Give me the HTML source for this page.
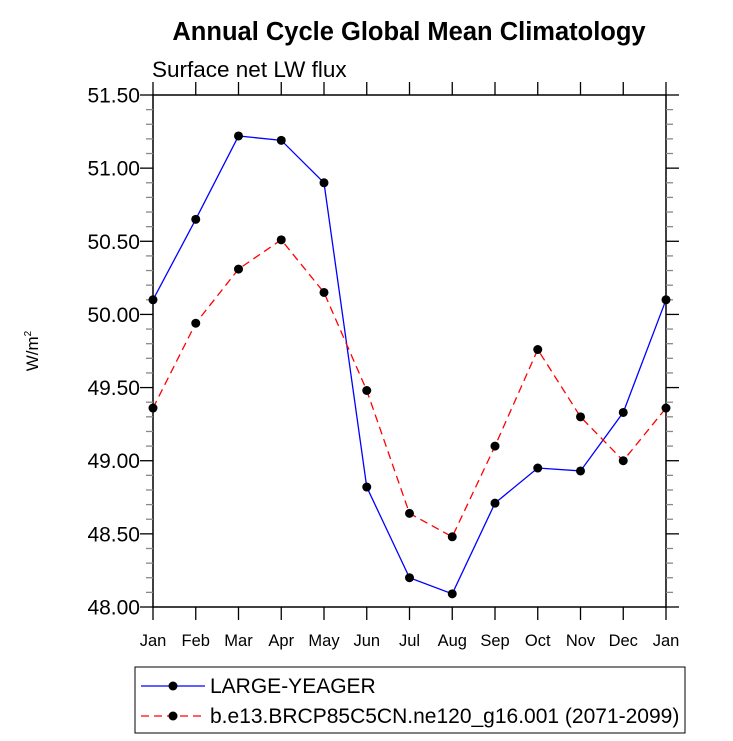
<!DOCTYPE html>
<html><head><meta charset="utf-8"><style>
html,body{margin:0;padding:0;background:#fff;}
svg{display:block;font-family:"Liberation Sans",Arial,sans-serif;}
</style></head><body>
<svg id="chart" width="733" height="741" viewBox="0 0 733 741">
<text x="409" y="40" text-anchor="middle" font-size="25.5" font-weight="bold">Annual Cycle Global Mean Climatology</text>
<text x="152" y="77" font-size="22.5">Surface net LW flux</text>
<text transform="translate(38,351) rotate(-90)" text-anchor="middle" font-size="17">W/m<tspan font-size="10" dy="-7">2</tspan></text>
<g id="axes"></g>
<g id="series"></g>
<g>
<rect x="135" y="667" width="550" height="66" fill="none" stroke="#000" stroke-width="1"/>
<g>
<line x1="141" y1="686" x2="205" y2="686" stroke="#0000ff" stroke-width="1.3"/>
<circle cx="173" cy="686" r="4.5" fill="#000"/>
<text x="210" y="693" font-size="21">LARGE-YEAGER</text>
</g>
<g>
<line x1="141" y1="716" x2="205" y2="716" stroke="#ff0000" stroke-width="1.3" stroke-dasharray="8,5"/>
<circle cx="173" cy="716" r="4.5" fill="#000"/>
<text x="210" y="723" font-size="21">b.e13.BRCP85C5CN.ne120_g16.001 (2071-2099)</text>
</g>
</g>
</svg>
<script>
const months = ["Jan","Feb","Mar","Apr","May","Jun","Jul","Aug","Sep","Oct","Nov","Dec","Jan"];
const largeYeager = [50.10,50.65,51.22,51.19,50.90,48.82,48.20,48.09,48.71,48.95,48.93,49.33,50.10];
const bE13 = [49.36,49.94,50.31,50.51,50.15,49.48,48.64,48.48,49.10,49.76,49.30,49.00,49.36];
const yTicks = [48.00,48.50,49.00,49.50,50.00,50.50,51.00,51.50];
const yTickLabels = ["48.00","48.50","49.00","49.50","50.00","50.50","51.00","51.50"];

const NS="http://www.w3.org/2000/svg";
const L=153,R=666,T=95,B=607,yMin=48,yMax=51.5;
const xS=i=>L+(R-L)*i/(months.length-1);
const yS=v=>B-(v-yMin)/(yMax-yMin)*(B-T);
function mk(tag,attrs,parent){const e=document.createElementNS(NS,tag);for(const k in attrs)e.setAttribute(k,attrs[k]);parent.appendChild(e);return e;}
const axes=document.getElementById('axes');
const frame=mk('rect',{x:L,y:T,width:R-L,height:B-T,fill:'none',stroke:'#000','stroke-width':1.5},axes);


for(let i=0;i<yTicks.length;i++){
  const y=yS(yTicks[i]);
  mk('line',{x1:L-13,y1:y,x2:L,y2:y,stroke:'#000','stroke-width':1.3},axes);
  mk('line',{x1:R,y1:y,x2:R+13,y2:y,stroke:'#000','stroke-width':1.3},axes);
  const t=mk('text',{x:L-13,y:y+7.5,'text-anchor':'end','font-size':21},axes);
  t.textContent=yTickLabels[i];
  
  
  if(i<yTicks.length-1){
    for(let k=1;k<5;k++){
      const ym=yS(yTicks[i]+(yTicks[i+1]-yTicks[i])*k/5);
      mk('line',{x1:L-7,y1:ym,x2:L,y2:ym,stroke:'#888','stroke-width':1.3},axes);
      mk('line',{x1:R,y1:ym,x2:R+7,y2:ym,stroke:'#888','stroke-width':1.3},axes);
    }
  }
}
months.forEach((m,i)=>{
  const x=xS(i);
  mk('line',{x1:x,y1:B,x2:x,y2:B+13,stroke:'#000','stroke-width':1.3},axes);
  mk('line',{x1:x,y1:T-13,x2:x,y2:T,stroke:'#000','stroke-width':1.3},axes);
  const t=mk('text',{x:x,y:B+39,'text-anchor':'middle','font-size':16.5},axes);
  t.textContent=m;
  
  
});
const ser=document.getElementById('series');
function draw(vals,color,dash,name){
  const g=mk('g',{},ser);
  
  
  const pts=vals.map((v,i)=>xS(i)+','+yS(v)).join(' ');
  const pl=mk('polyline',{points:pts,fill:'none',stroke:color,'stroke-width':1.3},g);
  if(dash)pl.setAttribute('stroke-dasharray',dash);
  
  
  vals.forEach((v,i)=>{
    const c=mk('circle',{cx:xS(i),cy:yS(v),r:4.5,fill:'#000'},g);
    
    
  });
}
draw(largeYeager,'#0000ff',null,'series-large-yeager');
draw(bE13,'#ff0000','8,5','series-b-e13');
</script>
</body></html>
